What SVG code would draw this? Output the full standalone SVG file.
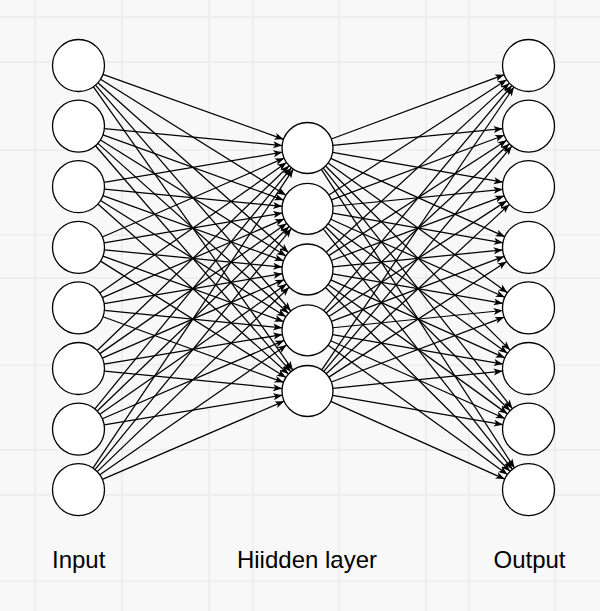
<svg xmlns="http://www.w3.org/2000/svg" width="600" height="611" viewBox="0 0 600 611">
<style>
.grid line{stroke:#e6e6e6;stroke-width:1}
.edges line{stroke:#000;stroke-width:1.25;fill:none;marker-end:url(#arr)}
.node circle{fill:#fff;stroke:#000;stroke-width:1.3}
.lbl{font-family:"Liberation Sans",Arial,Helvetica,sans-serif;font-size:24px;fill:#000;text-anchor:middle}
</style>
<defs>
<marker id="arr" markerUnits="userSpaceOnUse" markerWidth="9" markerHeight="7" refX="9" refY="3.5" orient="auto" overflow="visible">
<path d="M0,0 L9,3.5 L0,7 L2.2,3.5 Z" fill="#000"/>
</marker>
</defs>
<rect width="600" height="611" fill="#f8f8f8"/>
<g class="grid">
<line x1="35" y1="0" x2="35" y2="611"/>
<line x1="122" y1="0" x2="122" y2="611"/>
<line x1="209" y1="0" x2="209" y2="611"/>
<line x1="253" y1="0" x2="253" y2="611"/>
<line x1="339" y1="0" x2="339" y2="611"/>
<line x1="426" y1="0" x2="426" y2="611"/>
<line x1="469" y1="0" x2="469" y2="611"/>
<line x1="555" y1="0" x2="555" y2="611"/>
<line x1="0" y1="17" x2="600" y2="17"/>
<line x1="0" y1="62" x2="600" y2="62"/>
<line x1="0" y1="150" x2="600" y2="150"/>
<line x1="0" y1="235" x2="600" y2="235"/>
<line x1="0" y1="278" x2="600" y2="278"/>
<line x1="0" y1="365" x2="600" y2="365"/>
<line x1="0" y1="450" x2="600" y2="450"/>
<line x1="0" y1="495" x2="600" y2="495"/>
<line x1="0" y1="581" x2="600" y2="581"/>
</g>
<g id="connectors" class="edges">
<line x1="102.94" y1="74.36" x2="283.53" y2="139.31"/>
<line x1="104.38" y1="128.61" x2="282.12" y2="145.54"/>
<line x1="104.14" y1="182.39" x2="282.35" y2="152.23"/>
<line x1="102.36" y1="236.97" x2="284.10" y2="158.13"/>
<line x1="99.83" y1="293.03" x2="286.58" y2="162.59"/>
<line x1="97.23" y1="350.47" x2="289.13" y2="165.68"/>
<line x1="94.92" y1="408.94" x2="291.39" y2="167.77"/>
<line x1="92.97" y1="468.10" x2="293.30" y2="169.18"/>
<line x1="100.53" y1="79.31" x2="285.89" y2="195.26"/>
<line x1="102.94" y1="134.96" x2="283.53" y2="200.11"/>
<line x1="104.38" y1="189.21" x2="282.12" y2="206.34"/>
<line x1="104.14" y1="242.99" x2="282.35" y2="213.03"/>
<line x1="102.36" y1="297.57" x2="284.10" y2="218.93"/>
<line x1="99.83" y1="353.63" x2="286.58" y2="223.39"/>
<line x1="97.23" y1="411.07" x2="289.13" y2="226.48"/>
<line x1="94.92" y1="469.54" x2="291.39" y2="228.57"/>
<line x1="97.91" y1="82.80" x2="288.47" y2="252.53"/>
<line x1="100.53" y1="139.91" x2="285.89" y2="255.96"/>
<line x1="102.94" y1="195.56" x2="283.53" y2="260.81"/>
<line x1="104.38" y1="249.81" x2="282.12" y2="267.04"/>
<line x1="104.14" y1="303.59" x2="282.35" y2="273.73"/>
<line x1="102.36" y1="358.17" x2="284.10" y2="279.63"/>
<line x1="99.83" y1="414.23" x2="286.58" y2="284.09"/>
<line x1="97.23" y1="471.67" x2="289.13" y2="287.18"/>
<line x1="95.50" y1="85.17" x2="290.82" y2="311.01"/>
<line x1="97.91" y1="143.40" x2="288.47" y2="313.33"/>
<line x1="100.53" y1="200.51" x2="285.89" y2="316.76"/>
<line x1="102.94" y1="256.16" x2="283.53" y2="321.61"/>
<line x1="104.38" y1="310.41" x2="282.12" y2="327.84"/>
<line x1="104.14" y1="364.19" x2="282.35" y2="334.53"/>
<line x1="102.36" y1="418.77" x2="284.10" y2="340.43"/>
<line x1="99.83" y1="474.83" x2="286.58" y2="344.89"/>
<line x1="93.46" y1="86.77" x2="292.83" y2="370.14"/>
<line x1="95.50" y1="145.77" x2="290.82" y2="371.71"/>
<line x1="97.91" y1="204.00" x2="288.47" y2="374.03"/>
<line x1="100.53" y1="261.11" x2="285.89" y2="377.46"/>
<line x1="102.94" y1="316.76" x2="283.53" y2="382.31"/>
<line x1="104.38" y1="371.01" x2="282.12" y2="388.54"/>
<line x1="104.14" y1="424.79" x2="282.35" y2="395.23"/>
<line x1="102.36" y1="479.37" x2="284.10" y2="401.13"/>
<line x1="331.37" y1="139.03" x2="504.16" y2="74.64"/>
<line x1="332.87" y1="145.45" x2="502.63" y2="128.70"/>
<line x1="332.62" y1="152.38" x2="502.88" y2="182.24"/>
<line x1="330.77" y1="158.43" x2="504.77" y2="236.66"/>
<line x1="328.17" y1="162.94" x2="507.43" y2="292.67"/>
<line x1="325.56" y1="166.01" x2="510.09" y2="350.14"/>
<line x1="323.26" y1="168.04" x2="512.43" y2="408.66"/>
<line x1="321.35" y1="169.41" x2="514.38" y2="467.87"/>
<line x1="328.89" y1="194.91" x2="506.69" y2="79.66"/>
<line x1="331.37" y1="199.83" x2="504.16" y2="135.24"/>
<line x1="332.87" y1="206.25" x2="502.63" y2="189.30"/>
<line x1="332.62" y1="213.18" x2="502.88" y2="242.84"/>
<line x1="330.77" y1="219.23" x2="504.77" y2="297.26"/>
<line x1="328.17" y1="223.74" x2="507.43" y2="353.27"/>
<line x1="325.56" y1="226.81" x2="510.09" y2="410.74"/>
<line x1="323.26" y1="228.84" x2="512.43" y2="469.26"/>
<line x1="326.23" y1="252.20" x2="509.40" y2="83.14"/>
<line x1="328.89" y1="255.61" x2="506.69" y2="140.26"/>
<line x1="331.37" y1="260.53" x2="504.16" y2="195.84"/>
<line x1="332.87" y1="266.95" x2="502.63" y2="249.90"/>
<line x1="332.62" y1="273.88" x2="502.88" y2="303.44"/>
<line x1="330.77" y1="279.93" x2="504.77" y2="357.86"/>
<line x1="328.17" y1="284.44" x2="507.43" y2="413.87"/>
<line x1="325.56" y1="287.51" x2="510.09" y2="471.34"/>
<line x1="323.84" y1="310.72" x2="511.84" y2="85.47"/>
<line x1="326.23" y1="313.00" x2="509.40" y2="143.74"/>
<line x1="328.89" y1="316.41" x2="506.69" y2="200.86"/>
<line x1="331.37" y1="321.33" x2="504.16" y2="256.44"/>
<line x1="332.87" y1="327.75" x2="502.63" y2="310.50"/>
<line x1="332.62" y1="334.68" x2="502.88" y2="364.04"/>
<line x1="330.77" y1="340.73" x2="504.77" y2="418.46"/>
<line x1="328.17" y1="345.24" x2="507.43" y2="474.47"/>
<line x1="321.82" y1="369.90" x2="513.90" y2="87.01"/>
<line x1="323.84" y1="371.42" x2="511.84" y2="146.07"/>
<line x1="326.23" y1="373.70" x2="509.40" y2="204.34"/>
<line x1="328.89" y1="377.11" x2="506.69" y2="261.46"/>
<line x1="331.37" y1="382.03" x2="504.16" y2="317.04"/>
<line x1="332.87" y1="388.45" x2="502.63" y2="371.10"/>
<line x1="332.62" y1="395.38" x2="502.88" y2="424.64"/>
<line x1="330.77" y1="401.43" x2="504.77" y2="479.06"/>
</g>
<g id="input-0" class="node"><circle cx="78.5" cy="65.5" r="26"/></g>
<g id="input-1" class="node"><circle cx="78.5" cy="126.1" r="26"/></g>
<g id="input-2" class="node"><circle cx="78.5" cy="186.7" r="26"/></g>
<g id="input-3" class="node"><circle cx="78.5" cy="247.3" r="26"/></g>
<g id="input-4" class="node"><circle cx="78.5" cy="307.9" r="26"/></g>
<g id="input-5" class="node"><circle cx="78.5" cy="368.5" r="26"/></g>
<g id="input-6" class="node"><circle cx="78.5" cy="429.1" r="26"/></g>
<g id="input-7" class="node"><circle cx="78.5" cy="489.7" r="26"/></g>
<g id="hidden-0" class="node"><circle cx="307.5" cy="148" r="25.5"/></g>
<g id="hidden-1" class="node"><circle cx="307.5" cy="208.8" r="25.5"/></g>
<g id="hidden-2" class="node"><circle cx="307.5" cy="269.5" r="25.5"/></g>
<g id="hidden-3" class="node"><circle cx="307.5" cy="330.3" r="25.5"/></g>
<g id="hidden-4" class="node"><circle cx="307.5" cy="391" r="25.5"/></g>
<g id="output-0" class="node"><circle cx="528.5" cy="65.5" r="26"/></g>
<g id="output-1" class="node"><circle cx="528.5" cy="126.1" r="26"/></g>
<g id="output-2" class="node"><circle cx="528.5" cy="186.7" r="26"/></g>
<g id="output-3" class="node"><circle cx="528.5" cy="247.3" r="26"/></g>
<g id="output-4" class="node"><circle cx="528.5" cy="307.9" r="26"/></g>
<g id="output-5" class="node"><circle cx="528.5" cy="368.5" r="26"/></g>
<g id="output-6" class="node"><circle cx="528.5" cy="429.1" r="26"/></g>
<g id="output-7" class="node"><circle cx="528.5" cy="489.7" r="26"/></g>
<g id="labels">
<text class="lbl" x="78.7" y="568">Input</text>
<text class="lbl" x="307" y="568">Hiidden layer</text>
<text class="lbl" x="529.5" y="568">Output</text>
</g>
</svg>
